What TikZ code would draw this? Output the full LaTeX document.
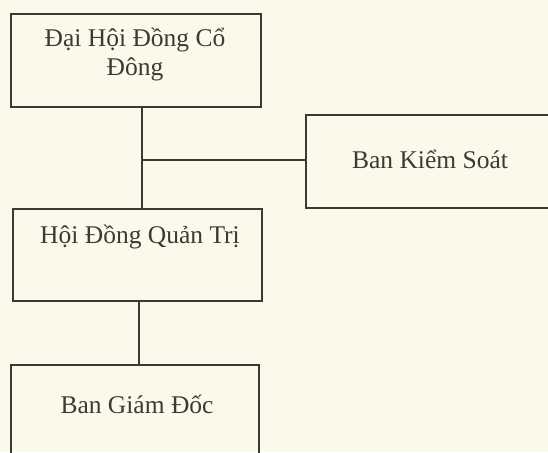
\documentclass[tikz,border=0pt]{standalone}
\usepackage{fontspec}
\setmainfont{Liberation Serif}
\definecolor{bg}{HTML}{FBF9EA}
\definecolor{ink}{HTML}{3A3A36}
\begin{document}
\begin{tikzpicture}[x=1pt,y=-1pt,
  box/.style={draw=ink,line width=2pt,rectangle,inner sep=0pt},
  txt/.style={text=ink,font=\fontsize{25.5}{28}\selectfont,anchor=base,inner sep=0pt},
  conn/.style={draw=ink,line width=2pt}]
\useasboundingbox (0,0) rectangle (548,452);
\clip (0,0) rectangle (548,452);
\fill[bg] (0,0) rectangle (548,452);
\node[box,minimum width=250pt,minimum height=93pt] (b1) at (136,60.5) {};
\node[box,minimum width=254pt,minimum height=93pt] (b2) at (433,161.5) {};
\node[box,minimum width=249pt,minimum height=92pt] (b3) at (137.5,255) {};
\node[box,minimum width=248pt,minimum height=105pt] (b4) at (135,417.5) {};
\node[txt] (t1a) at (135,47) {Đại Hội Đồng Cổ};
\node[txt] (t1b) at (135,75) {Đông};
\node[txt] (t2) at (430,168) {Ban Kiểm Soát};
\node[txt] (t3) at (140,243) {Hội Đồng Quản Trị};
\node[txt] (t4) at (137,413) {Ban Giám Đốc};
\coordinate (j) at (142,160);
\coordinate (k) at (139,330);
\draw[conn] (b1.south -| j) -- (b3.north -| j);
\draw[conn] (j) -- (j -| b2.west);
\draw[conn] (b3.south -| k) -- (b4.north -| k);
\end{tikzpicture}
\end{document}
